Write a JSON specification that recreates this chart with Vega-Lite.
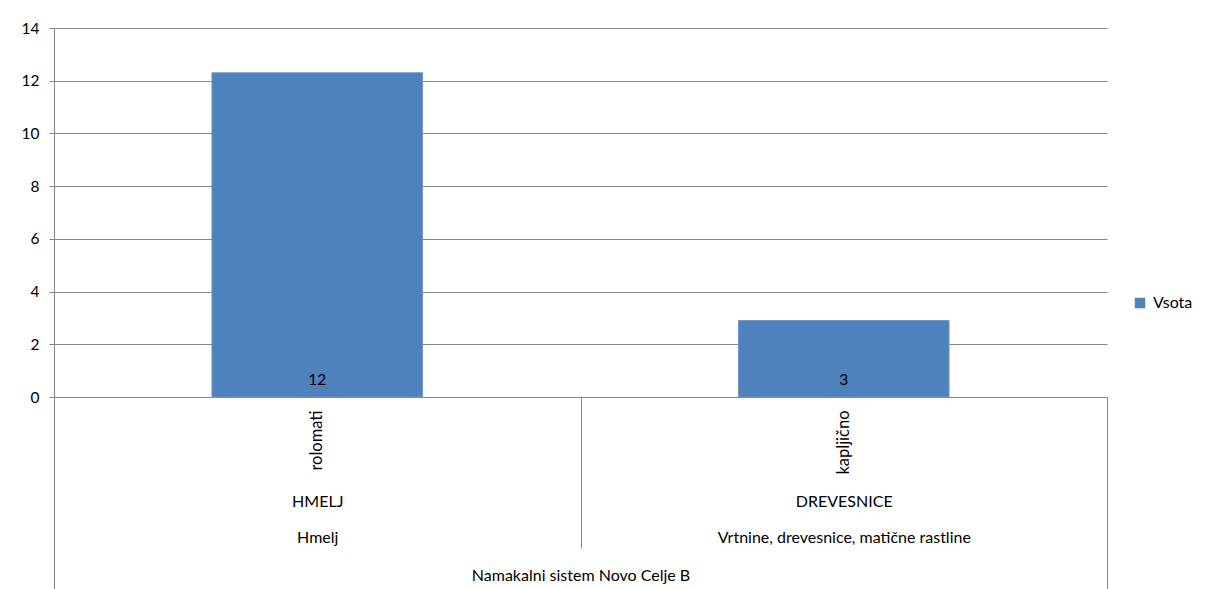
{
  "$schema": "https://vega.github.io/schema/vega-lite/v6.json",
  "autosize": "none",
  "width": 1053,
  "height": 369,
  "padding": {"left": 54, "top": 28, "right": 104, "bottom": 192},
  "background": "white",
  "config": {
    "view": {"stroke": null},
    "font": "Lato",
    "axis": {"labelFont": "Lato", "labelFontSize": 16, "labelLimit": 0, "labelColor": "#000000", "domainColor": "#868686", "tickColor": "#868686", "gridColor": "#868686", "titleFont": "Lato"},
    "legend": {"labelFont": "Lato", "labelFontSize": 16, "labelColor": "#000000"}
  },
  "data": {
    "values": [
      {"nacin": "rolomati", "kultura": "HMELJ", "skupina": "Hmelj", "sistem": "Namakalni sistem Novo Celje B", "vsota": 12.3},
      {"nacin": "kapljično", "kultura": "DREVESNICE", "skupina": "Vrtnine, drevesnice, matične rastline", "sistem": "Namakalni sistem Novo Celje B", "vsota": 2.9}
    ]
  },
  "resolve": {"scale": {"x": "independent"}, "axis": {"x": "independent"}},
  "layer": [
    {
      "mark": {"type": "bar", "stroke": "#6f97c9", "strokeWidth": 1},
      "encoding": {
        "x": {"field": "nacin", "type": "nominal", "sort": null,
          "scale": {"paddingInner": 0.6, "paddingOuter": 0.3},
          "axis": {"orient": "bottom", "title": null, "labelAngle": -90, "ticks": false, "labelPadding": 13, "domain": true, "domainColor": "#868686", "labelFontSize": 16.5}},
        "y": {"field": "vsota", "type": "quantitative",
          "scale": {"domain": [0, 14], "nice": false},
          "axis": {"title": null, "values": [0, 2, 4, 6, 8, 10, 12, 14], "grid": true, "tickSize": 5, "labelPadding": 10, "domainColor": "#868686", "labelFontSize": 15.5}},
        "color": {"datum": "Vsota", "type": "nominal",
          "scale": {"range": ["#4F81BD"]},
          "legend": {"title": null, "orient": "none", "legendX": 1078, "legendY": 267, "symbolType": "square", "symbolSize": 110, "symbolStrokeWidth": 0, "padding": 0, "labelOffset": 5}}
      }
    },
    {
      "mark": {"type": "text", "baseline": "bottom", "dy": -9, "fontSize": 15.5, "font": "Lato", "color": "#000000"},
      "encoding": {
        "x": {"field": "nacin", "type": "nominal", "sort": null,
          "scale": {"paddingInner": 0.6, "paddingOuter": 0.3}, "axis": null},
        "y": {"datum": 0, "type": "quantitative"},
        "text": {"field": "vsota", "type": "quantitative", "format": ".0f"}
      }
    },
    {
      "mark": {"type": "text", "text": ""},
      "encoding": {
        "x": {"field": "kultura", "type": "nominal", "sort": null,
          "scale": {"paddingInner": 0, "paddingOuter": 0},
          "axis": {"orient": "bottom", "title": null, "labelAngle": 0, "ticks": false, "domain": false, "labelPadding": 96}}
      }
    },
    {
      "mark": {"type": "text", "text": ""},
      "encoding": {
        "x": {"field": "skupina", "type": "nominal", "sort": null,
          "scale": {"paddingInner": 0, "paddingOuter": 0},
          "axis": {"orient": "bottom", "title": null, "labelAngle": 0, "ticks": true, "tickBand": "extent", "tickSize": 151, "domain": false, "labelPadding": -19}}
      }
    },
    {
      "mark": {"type": "text", "text": ""},
      "encoding": {
        "x": {"field": "sistem", "type": "nominal", "sort": null,
          "scale": {"paddingInner": 0, "paddingOuter": 0},
          "axis": {"orient": "bottom", "title": null, "labelAngle": 0, "ticks": true, "tickBand": "extent", "tickSize": 192, "domain": false, "labelPadding": -22}}
      }
    }
  ]
}
